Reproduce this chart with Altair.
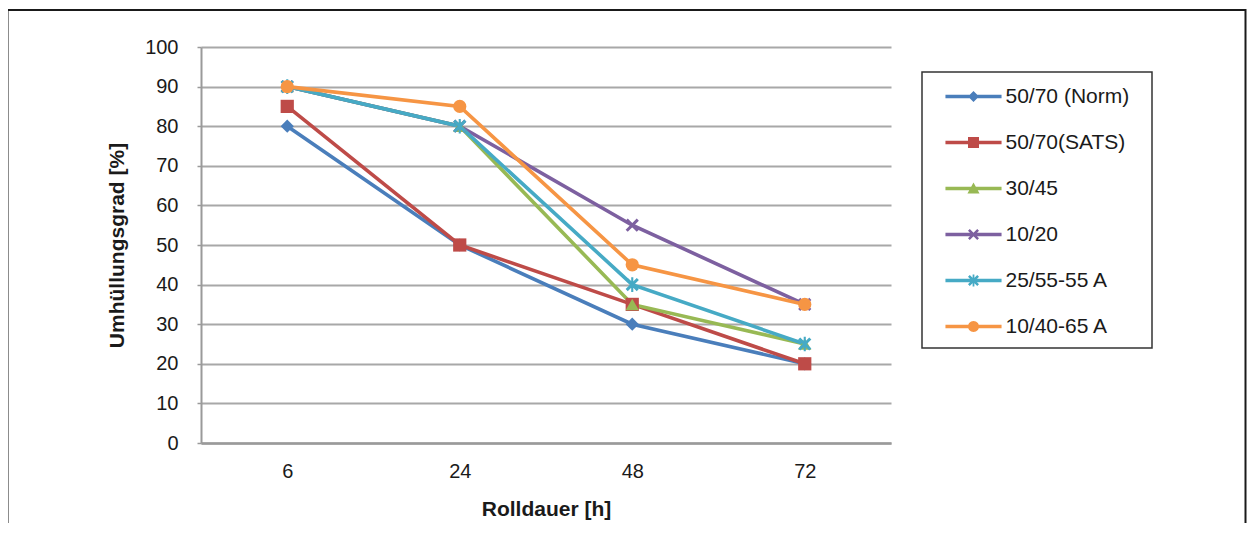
import altair as alt
import pandas as pd
import numpy as np

# ---------------- data ----------------
hours = ["6", "24", "48", "72"]
series_names = ["50/70 (Norm)", "50/70(SATS)", "30/45", "10/20", "25/55-55 A", "10/40-65 A"]
v_norm = [80, 50, 30, 20]
v_sats = [85, 50, 35, 20]
v_3045 = [90, 80, 35, 25]
v_1020 = [90, 80, 55, 35]
v_2555 = [90, 80, 40, 25]
v_1040 = [90, 85, 45, 35]
y_ticks = [0, 10, 20, 30, 40, 50, 60, 70, 80, 90, 100]

colors = ["#4A7EBB", "#BE4B48", "#98B954", "#7D60A0", "#46AAC5", "#F69544"]

rows = []
for name, vals in zip(series_names, [v_norm, v_sats, v_3045, v_1020, v_2555, v_1040]):
    for h, v in zip(hours, vals):
        rows.append({"Rolldauer": h, "Wert": v, "Serie": name})
df = pd.DataFrame(rows)

FONT = "Liberation Sans"


# ---------------- marker shapes (style) ----------------
def poly(pts):
    return "M" + " L".join(f"{x:.3f},{y:.3f}" for x, y in pts) + " Z"


def x_arms(t):
    a1 = [(-1, -1 + t), (-1 + t, -1), (1, 1 - t), (1 - t, 1)]
    a2 = [(-1, 1 - t), (1 - t, -1), (1, -1 + t), (-1 + t, 1)]
    return poly(a1) + " " + poly(a2)


diamond = poly([(-1, 0), (0, -1), (1, 0), (0, 1)])
square = poly([(-1, -1), (1, -1), (1, 1), (-1, 1)])
triangle = poly([(0, -1.1), (1.1, 0.9), (-1.1, 0.9)])
ang = np.linspace(0, 2 * np.pi, 28, endpoint=False)
circle = poly([(float(np.cos(a)), float(np.sin(a))) for a in ang])
xmark = x_arms(0.32)
asterisk = x_arms(0.32) + " " + poly([(-0.16, -1.1), (0.16, -1.1), (0.16, 1.1), (-0.16, 1.1)])

chart_shapes = ["diamond", "square", "triangle-up", xmark, asterisk, "circle"]

L, HW = 5.1, 0.32
line_seg = poly([(-L, -HW), (L, -HW), (L, HW), (-L, HW)])
legend_shapes = [line_seg + " " + s for s in [diamond, square, triangle, xmark, asterisk, circle]]

color_scale = alt.Scale(domain=series_names, range=colors)

base = alt.Chart(df)

x_enc = alt.X(
    "Rolldauer:O",
    sort=hours,
    scale=alt.Scale(type="point", padding=0.5),
    axis=alt.Axis(
        title="Rolldauer [h]",
        labelAngle=0,
        ticks=False,
        tickSize=0,
        labelPadding=18,
        labelFontSize=20,
        labelFont=FONT,
        labelColor="#1a1a1a",
        titleFont=FONT,
        titleFontSize=21,
        titleFontWeight="bold",
        titleColor="#1a1a1a",
        titlePadding=17,
        domainColor="#9A9A9A",
        domainWidth=2.5,
        grid=False,
    ),
)
y_enc = alt.Y(
    "Wert:Q",
    scale=alt.Scale(domain=[0, 100], nice=False, zero=True),
    axis=alt.Axis(
        title="Umhüllungsgrad [%]",
        values=y_ticks,
        labelFontSize=20,
        labelFont=FONT,
        labelColor="#1a1a1a",
        labelPadding=19,
        tickSize=4,
        tickColor="#9A9A9A",
        tickWidth=1.5,
        domainColor="#9A9A9A",
        domainWidth=2,
        gridColor="#A8A8A8",
        gridWidth=2,
        titleFont=FONT,
        titleFontSize=21,
        titleFontWeight="bold",
        titleColor="#1a1a1a",
        titlePadding=17,
    ),
)

lines = base.mark_line(strokeWidth=3.6).encode(
    x=x_enc,
    y=y_enc,
    color=alt.Color("Serie:N", scale=color_scale, legend=None),
    detail="Serie:N",
)

points = base.mark_point(filled=True, opacity=1, size=175, strokeWidth=0).encode(
    x=x_enc,
    y=y_enc,
    color=alt.Color("Serie:N", scale=color_scale, legend=None),
    shape=alt.Shape("Serie:N", scale=alt.Scale(domain=series_names, range=chart_shapes), legend=None),
)

leg_props = dict(
    orient="none",
    legendX=716.5,
    legendY=39.5,
    title=None,
    padding=0,
    labelFont=FONT,
    labelFontSize=21,
    labelColor="#1a1a1a",
    labelOffset=21.5,
    labelLimit=300,
    symbolSize=121,
    symbolOffset=45.5,
    symbolStrokeWidth=0,
    clipHeight=20,
    rowPadding=25,
)

legend_layer = base.transform_filter("false").mark_point(filled=True, opacity=1).encode(
    color=alt.Color("Serie:N", scale=color_scale, legend=alt.Legend(**leg_props)),
    shape=alt.Shape("Serie:N", scale=alt.Scale(domain=series_names, range=legend_shapes),
                    legend=alt.Legend(**leg_props)),
)

frame_df = pd.DataFrame({"k": [0]})
frame = alt.Chart(frame_df).mark_rect(fillOpacity=0, stroke="#1a1a1a", strokeWidth=2, clip=False).encode(
    x=alt.value(-193.5), x2=alt.value(1044.5), y=alt.value(-37), y2=alt.value(700)
)
legend_box = alt.Chart(frame_df).mark_rect(fillOpacity=0, stroke="#333333", strokeWidth=1.5, clip=False).encode(
    x=alt.value(721), x2=alt.value(951), y=alt.value(25), y2=alt.value(301)
)

chart = (
    alt.layer(frame, legend_box, lines, points, legend_layer)
    .resolve_scale(shape="independent", color="independent")
    .properties(
        width=690,
        height=396,
        autosize=alt.AutoSizeParams(type="none"),
        padding={"left": 193, "top": 39, "right": 356, "bottom": 80},
        background="white",
    )
    .configure_view(stroke=None)
)

chart.save("out.html", embed_options={"renderer": "svg", "actions": False})
